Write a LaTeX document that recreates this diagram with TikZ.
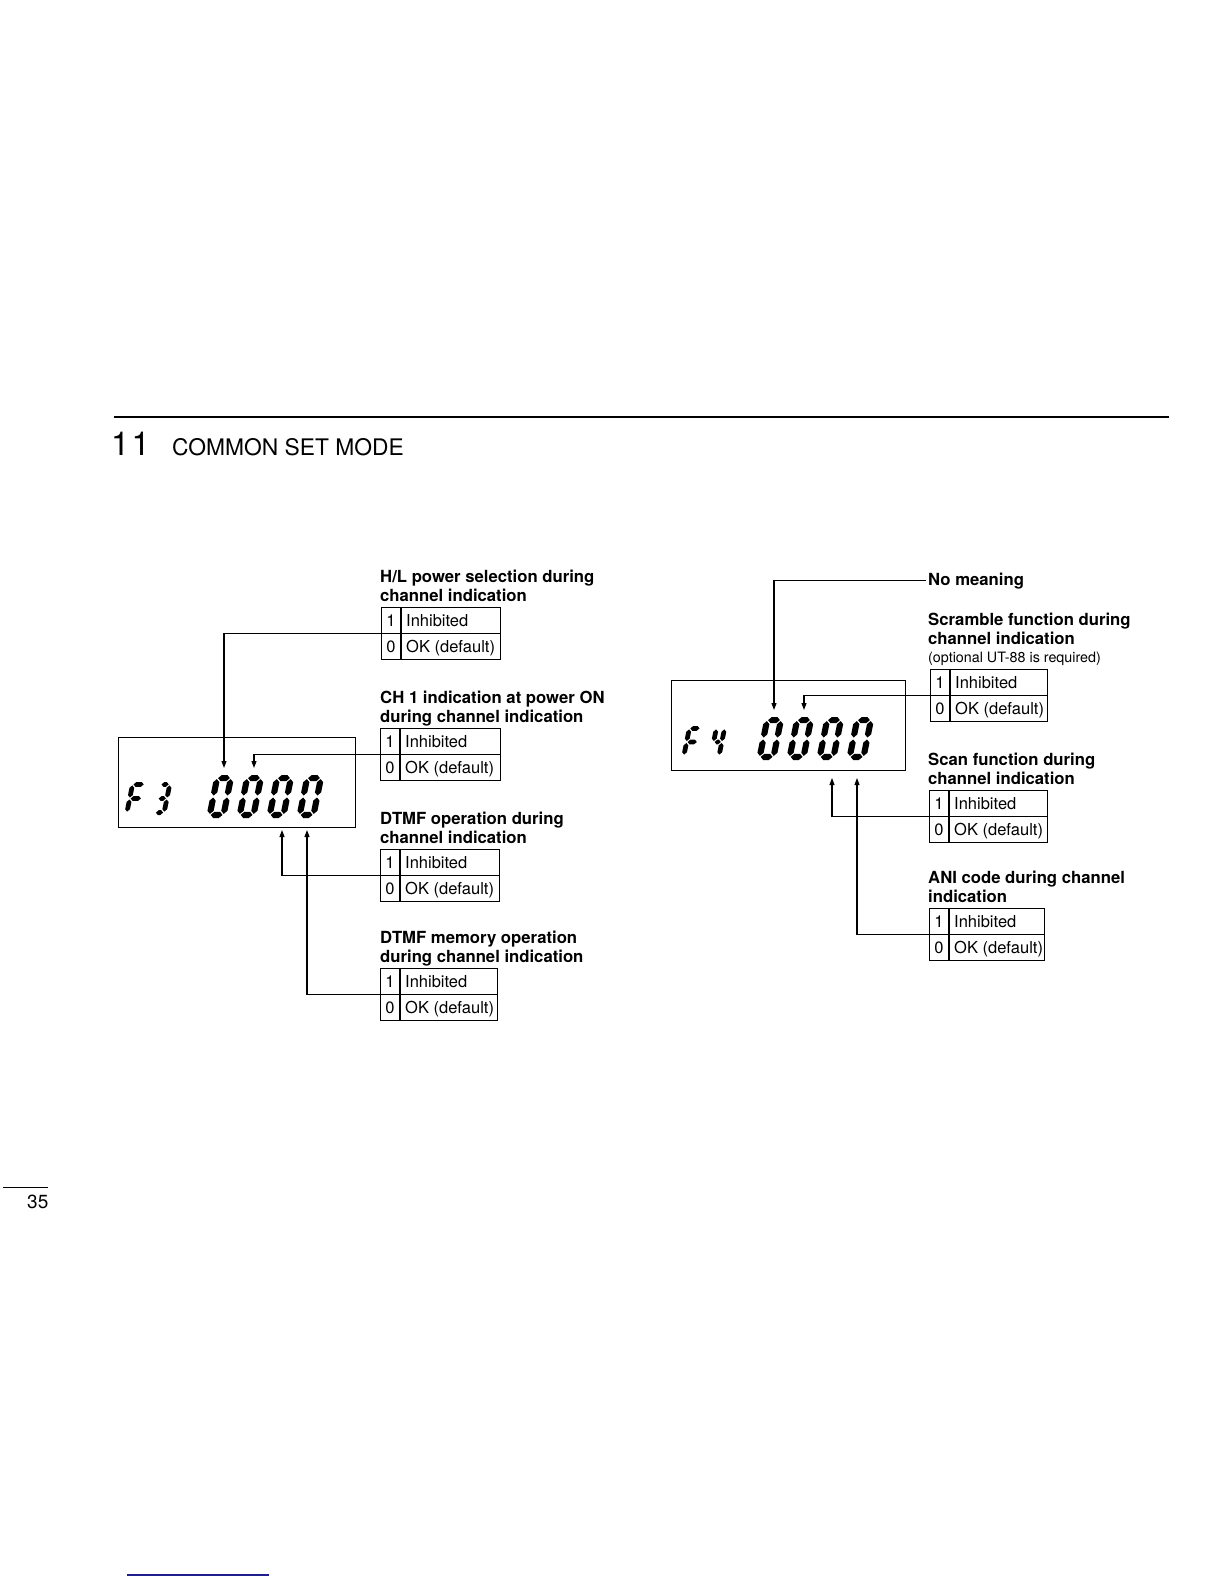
\documentclass[tikz,border=0pt]{standalone}
\usepackage{fontspec}
\setmainfont{TeX Gyre Heros}
\usetikzlibrary{arrows.meta}
\definecolor{navyline}{RGB}{30,30,140}
\tikzset{
  tabbox/.style={draw, line width=1.4pt, anchor=north west, minimum height=52pt, inner sep=0pt},
  tabline/.style={line width=1.3pt},
  cell/.style={font=\fontsize{16.5}{19}\selectfont, inner sep=0pt},
  ttl/.style={font=\fontsize{16.7}{19}\selectfont\bfseries, anchor=base west, inner sep=0pt},
  smallttl/.style={font=\fontsize{14.3}{17}\selectfont, anchor=base west, inner sep=0pt},
  conn/.style={line width=1.1pt},
  arr/.style={conn, -{Triangle[length=7pt,width=5pt]}},
  disp/.style={draw, line width=1.4pt, anchor=north west, inner sep=0pt},
}
\newcommand\opttab[4]{%
  \node[tabbox, minimum width=#4pt] (#1) at (#2,#3) {};
  \draw[tabline] (#1.west) -- (#1.east);
  \draw[tabline] ([xshift=20pt]#1.north west) -- ([xshift=20pt]#1.south west);
  \node[cell, anchor=base] (#1-1) at ([xshift=10pt,yshift=-19pt]#1.north west) {1};
  \node[cell, anchor=base west] (#1-inh) at ([xshift=25pt,yshift=-19pt]#1.north west) {Inhibited};
  \node[cell, anchor=base] (#1-0) at ([xshift=10pt,yshift=-45pt]#1.north west) {0};
  \node[cell, anchor=base west] (#1-ok) at ([xshift=25pt,yshift=-45pt]#1.north west) {OK (default)};
}
\def\dg{1.0}
\newcommand\hseg[1]{\fill ({\dT/2+\dg},{#1}) -- ({\dT+\dg},{#1+\dT/2}) -- ({\dW-\dT-\dg},{#1+\dT/2}) -- ({\dW-\dT/2-\dg},{#1}) -- ({\dW-\dT-\dg},{#1-\dT/2}) -- ({\dT+\dg},{#1-\dT/2}) -- cycle;}
\newcommand\vseg[3]{\fill ({#1},{#2+\dg}) -- ({#1+\dT/2},{#2+\dg+\dT/2}) -- ({#1+\dT/2},{#3-\dg-\dT/2}) -- ({#1},{#3-\dg}) -- ({#1-\dT/2},{#3-\dg-\dT/2}) -- ({#1-\dT/2},{#2+\dg+\dT/2}) -- cycle;}
\newcommand\Sega{\hseg{\dH-\dT/2}}
\newcommand\Segg{\hseg{\dH/2}}
\newcommand\Segd{\hseg{\dT/2}}
\newcommand\Segf{\vseg{\dT/2}{\dH/2}{\dH-\dT/2}}
\newcommand\Segb{\vseg{\dW-\dT/2}{\dH/2}{\dH-\dT/2}}
\newcommand\Sege{\vseg{\dT/2}{\dT/2}{\dH/2}}
\newcommand\Segc{\vseg{\dW-\dT/2}{\dT/2}{\dH/2}}
\newcommand\segdigit[6]{%
  \begin{scope}[shift={(#1,#2)}, y=1pt, xslant=0.2]
    \pgfmathsetmacro\dW{#3}\pgfmathsetmacro\dH{#4}\pgfmathsetmacro\dT{#5}
    \foreach \s in {#6}{\csname Seg\s\endcsname}
  \end{scope}}
\begin{document}
\begin{tikzpicture}[x=1pt, y=-1pt]
\useasboundingbox (0,0) rectangle (1224,1584);
\fill[white] (0,0) rectangle (1224,1584);

% header
\draw[line width=2.8pt] (114,417) -- (1169,417);
\node[anchor=base west, inner sep=0pt, font=\fontsize{33}{36}\selectfont] (chapnum) at (111,455) {1\kern2pt1};
\node[anchor=base west, inner sep=0pt, font=\fontsize{22.8}{26}\selectfont] (chaptitle) at (172,455) {COMMON SET MODE};

% ---------- left: F3 display ----------
\node[disp, minimum width=237pt, minimum height=90pt] (dispL) at (118,737) {};
\segdigit{124}{815}{17}{33}{4.8}{a,f,e,g}
\segdigit{152}{815}{14}{33}{4.8}{a,b,g,c,d}
\segdigit{206}{818}{20}{43}{6.2}{a,b,c,d,e,f}
\segdigit{236}{818}{20}{43}{6.2}{a,b,c,d,e,f}
\segdigit{266}{818}{20}{43}{6.2}{a,b,c,d,e,f}
\segdigit{296}{818}{20}{43}{6.2}{a,b,c,d,e,f}

\node[ttl] (hlt1) at (380,582) {H/L power selection during};
\node[ttl] (hlt2) at (380,601) {channel indication};
\opttab{hl}{381}{607}{119}

\node[ttl] (cht1) at (380,703) {CH 1 indication at power ON};
\node[ttl] (cht2) at (380,722) {during channel indication};
\opttab{ch}{380}{728}{120}

\node[ttl] (dot1) at (380,824) {DTMF operation during};
\node[ttl] (dot2) at (380,843) {channel indication};
\opttab{dop}{380}{849}{119}

\node[ttl] (dmt1) at (380,943) {DTMF memory operation};
\node[ttl] (dmt2) at (380,962) {during channel indication};
\opttab{dmem}{380}{968}{117}

\coordinate (tA) at (224,768);
\coordinate (tB) at (254,768);
\coordinate (tC) at (282,830);
\coordinate (tD) at (307,830);
\draw[arr] (hl.west) -| (tA);
\draw[arr] (ch.west) -| (tB);
\draw[arr] (dop.west) -| (tC);
\draw[arr] (dmem.west) -| (tD);

% ---------- right: F4 display ----------
\node[disp, minimum width=234pt, minimum height=90pt] (dispR) at (671,680) {};
\segdigit{681}{758}{16}{32}{4.8}{a,f,e,g}
\segdigit{708}{758}{13}{32}{4.8}{f,g,b,c}
\segdigit{756}{760}{20}{43}{6.2}{a,b,c,d,e,f}
\segdigit{786}{760}{20}{43}{6.2}{a,b,c,d,e,f}
\segdigit{816}{760}{20}{43}{6.2}{a,b,c,d,e,f}
\segdigit{846}{760}{20}{43}{6.2}{a,b,c,d,e,f}

\node[ttl, inner xsep=2.5pt] (nm) at (925.5,585) {No meaning};

\node[ttl] (srt1) at (928,625) {Scramble function during};
\node[ttl] (srt2) at (928,644) {channel indication};
\node[smallttl] (srt3) at (928,662) {(optional UT-88 is required)};
\opttab{scr}{930}{669}{117}

\node[ttl] (sct1) at (928,765) {Scan function during};
\node[ttl] (sct2) at (928,784) {channel indication};
\opttab{scan}{929}{790}{118}

\node[ttl] (ant1) at (928,883) {ANI code during channel};
\node[ttl] (ant2) at (928,902) {indication};
\opttab{ani}{929}{908}{115}

\coordinate (tE) at (774,710);
\coordinate (tF) at (804,710);
\coordinate (tG) at (832,778);
\coordinate (tH) at (857,778);
\draw[arr] (nm.west) -| (tE);
\draw[arr] (scr.west) -| (tF);
\draw[arr] (scan.west) -| (tG);
\draw[arr] (ani.west) -| (tH);

% page number
\draw[line width=1pt] (3,1187) -- (48,1187);
\node[anchor=base west, inner sep=0pt, font=\fontsize{19}{22}\selectfont] (pageno) at (27,1208) {35};

% bottom blue rule
\draw[navyline, line width=1.5pt] (127,1575) -- (269,1575);
\end{tikzpicture}
\end{document}
